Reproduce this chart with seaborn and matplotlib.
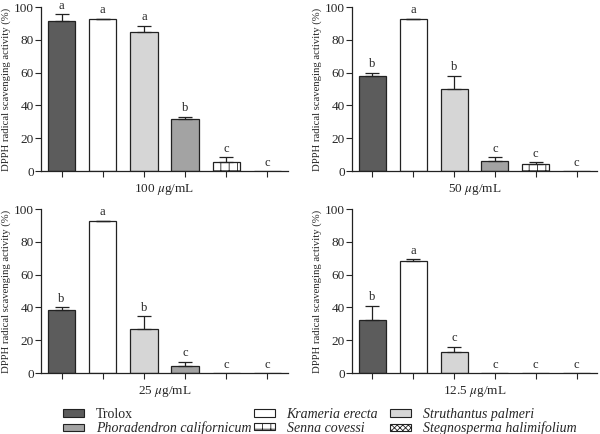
import numpy as np
import pandas as pd
import matplotlib
matplotlib.use("Agg")
import matplotlib.pyplot as plt
import seaborn as sns
from matplotlib.patches import Patch

sns.set_style("ticks")
plt.rcParams['font.family'] = ['Liberation Serif', 'DejaVu Serif']
plt.rcParams['mathtext.fontset'] = 'stix'
plt.rcParams['hatch.linewidth'] = 0.6

samples = ["Trolox", "Krameria erecta", "Struthantus palmeri",
           "Phoradendron californicum", "Senna covessi", "Stegnosperma halimifolium"]
colors = ["#5c5c5c", "#ffffff", "#d6d6d6", "#a3a3a3", "#ffffff", "#ffffff"]
hatches = ["", "", "", "", "++", "xxxxxx"]

concentrations = ["100 $\\mu$g/mL", "50 $\\mu$g/mL", "25 $\\mu$g/mL", "12.5 $\\mu$g/mL"]
means_100 = [91.5, 92.5, 85.0, 32.0, 5.5, 0.0]
errs_100 = [4.0, 0.4, 3.5, 1.0, 3.0, 0.0]
letters_100 = ["a", "a", "a", "b", "c", "c"]
means_50 = [58.0, 92.5, 50.0, 6.0, 4.0, 0.0]
errs_50 = [2.0, 0.4, 8.0, 2.5, 1.5, 0.0]
letters_50 = ["b", "a", "b", "c", "c", "c"]
means_25 = [38.5, 92.5, 27.0, 4.5, 0.0, 0.0]
errs_25 = [1.5, 0.4, 7.5, 2.5, 0.0, 0.0]
letters_25 = ["b", "a", "b", "c", "c", "c"]
means_12 = [32.5, 68.0, 13.0, 0.0, 0.0, 0.0]
errs_12 = [8.5, 1.5, 3.0, 0.0, 0.0, 0.0]
letters_12 = ["b", "a", "c", "c", "c", "c"]

panels = [(means_100, errs_100, letters_100),
          (means_50, errs_50, letters_50),
          (means_25, errs_25, letters_25),
          (means_12, errs_12, letters_12)]

fig = plt.figure(figsize=(6.0, 4.34), dpi=100)
W, H = 600.0, 434.0
boxes = [(41, 288, 7, 171), (352, 597, 7, 171), (41, 288, 209, 373), (352, 597, 209, 373)]

for (means, errs, letters), conc, (l, r, t, b) in zip(panels, concentrations, boxes):
    ax = fig.add_axes([l / W, (H - b) / H, (r - l) / W, (b - t) / H])
    df = pd.DataFrame({"sample": samples, "value": means})
    sns.barplot(data=df, x="sample", y="value", hue="sample", order=samples,
                hue_order=samples, palette=colors, dodge=False, legend=False,
                edgecolor="#222222", linewidth=0.9, width=0.66, ax=ax)
    for p, h in zip(ax.patches, hatches):
        if h:
            p.set_hatch(h)
            p.set_edgecolor("#222222")
    x = np.arange(len(samples))
    lower = np.zeros(len(samples))
    mask = np.array(errs) > 0
    ax.errorbar(x[mask], np.array(means)[mask], yerr=[lower[mask], np.array(errs)[mask]],
                fmt="none", ecolor="#222222", elinewidth=0.9, capsize=5, capthick=0.9)
    for xi, m, e, lt in zip(x, means, errs, letters):
        ax.text(xi, m + e + 1.5, lt, ha="center", va="bottom", fontsize=9)
    ax.set_xlim(-0.5, 5.5)
    ax.set_ylim(0, 100)
    ax.set_yticks([0, 20, 40, 60, 80, 100])
    ax.set_xticks(x)
    ax.tick_params(axis="x", labelbottom=False, length=4, width=0.8)
    ax.set_xlabel(conc, fontsize=9.5, labelpad=4)
    ax.set_ylabel("DPPH radical scavenging activity (%)", fontsize=7.7, labelpad=2)
    ax.tick_params(axis="y", labelsize=9.5, length=4, width=0.8, pad=1)
    for s in ["top", "right"]:
        ax.spines[s].set_visible(False)
    for s in ["left", "bottom"]:
        ax.spines[s].set_linewidth(0.9)
        ax.spines[s].set_color("#222222")

# legend: three columns, each placed at its own x position
columns = [[0, 3], [1, 4], [2, 5]]
col_x = [63, 254, 390]
for idxs, cx in zip(columns, col_x):
    handles = [Patch(facecolor=colors[i], edgecolor="#222222", hatch=hatches[i], linewidth=0.8)
               for i in idxs]
    labels = [samples[i] for i in idxs]
    leg = fig.legend(handles, labels, loc="upper left",
                     bbox_to_anchor=(cx / W, (H - 408) / H),
                     frameon=False, fontsize=10, handlelength=1.5, handleheight=0.45,
                     labelspacing=0.05, handletextpad=0.85,
                     borderpad=0.0, borderaxespad=0.0)
    for txt in leg.get_texts():
        if txt.get_text() != "Trolox":
            txt.set_style("italic")

fig.savefig("out.png", dpi=100)
